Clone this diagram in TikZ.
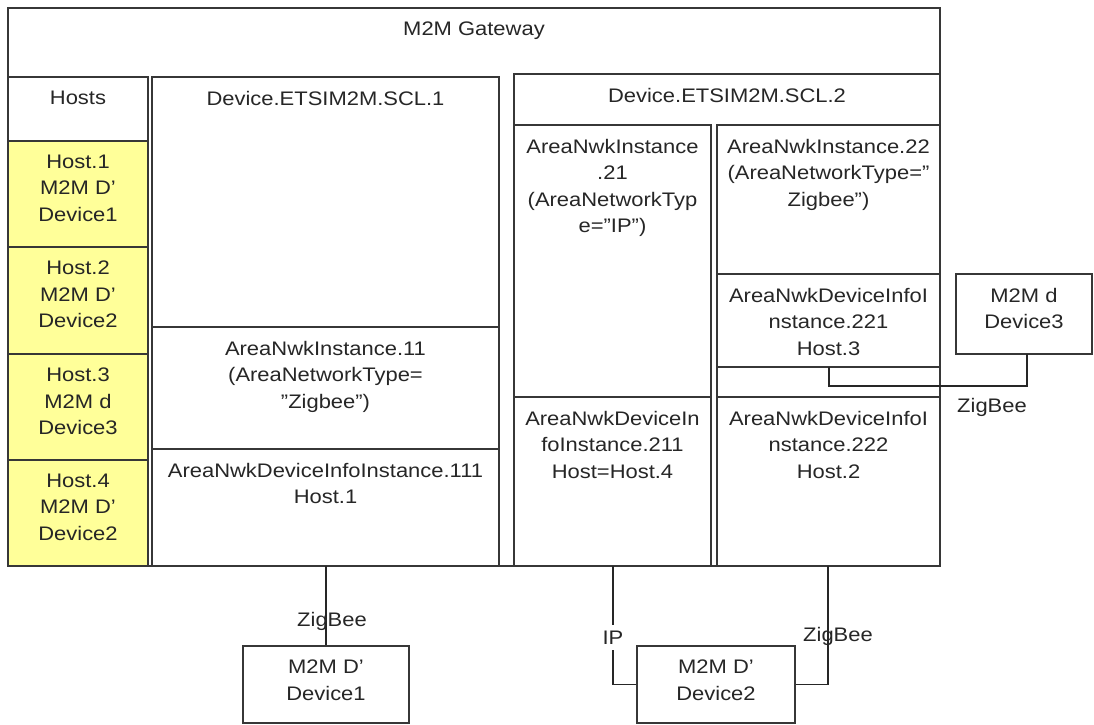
\documentclass[tikz,border=0pt]{standalone}
\usepackage{fontspec}
\setmainfont{Liberation Sans}[FakeStretch=1.12]
\usetikzlibrary{fit}
\definecolor{hostyellow}{RGB}{255,255,153}
\definecolor{ln}{RGB}{55,55,55}
\begin{document}
\begin{tikzpicture}[x=0.5pt,y=-0.5pt,
  box/.style={draw=ln, line width=0.6pt, inner sep=0pt},
  hostbox/.style={box, fill=hostyellow},
  txt/.style={anchor=north, inner sep=0pt, align=center, text=black!85,
    font=\fontsize{9.8}{13.3}\selectfont},
  lbl/.style={anchor=base, inner sep=0pt, text=black!85,
    font=\fontsize{9.8}{13.3}\selectfont},
  conn/.style={draw=black!85, line width=0.7pt}]
\useasboundingbox (0,0) rectangle (1094,724);
% gateway
\node[box, fit={(8,8) (940,566)}] (gw) {};
\node[txt] (gwt) at (474,21.5) {M2M Gateway};
% hosts
\node[box, fit={(8,77) (148,141)}] (hostsh) {};
\node[txt] (hostst) at (78,90.5) {Hosts};
\node[hostbox, fit={(8,141) (148,247)}] (h1) {};
\node[hostbox, fit={(8,247) (148,354)}] (h2) {};
\node[hostbox, fit={(8,354) (148,460)}] (h3) {};
\node[hostbox, fit={(8,460) (148,566)}] (h4) {};
\node[txt] (h1t) at (78,154.5) {Host.1\\M2M D’\\Device1};
\node[txt] (h2t) at (78,260.5) {Host.2\\M2M D’\\Device2};
\node[txt] (h3t) at (78,367.5) {Host.3\\M2M d\\Device3};
\node[txt] (h4t) at (78,473.5) {Host.4\\M2M D’\\Device2};
% SCL.1
\node[box, fit={(152,77) (499,566)}] (scl1) {};
\node[txt] (scl1t) at (325.5,90.5) {Device.ETSIM2M.SCL.1};
\node[box, fit={(152,327) (499,449)}] (a11) {};
\node[txt] (a11t) at (325.5,340.5) {AreaNwkInstance.11\\(AreaNetworkType=\\”Zigbee”)};
\node[box, fit={(152,449) (499,566)}] (d111) {};
\node[txt] (d111t) at (325.5,462.5) {AreaNwkDeviceInfoInstance.111\\Host.1};
% SCL.2
\node[box, fit={(514,74) (940,566)}] (scl2) {};
\node[txt] (scl2t) at (727,88) {Device.ETSIM2M.SCL.2};
\node[box, fit={(514,125) (711,566)}] (a21) {};
\node[txt] (a21t) at (612.5,138.5) {AreaNwkInstance\\.21\\(AreaNetworkTyp\\e=”IP”)};
\node[box, fit={(514,397) (711,566)}] (d211) {};
\node[txt] (d211t) at (612.5,410.5) {AreaNwkDeviceIn\\foInstance.211\\Host=Host.4};
\node[box, fit={(717,125) (940,566)}] (a22) {};
\node[txt] (a22t) at (828.5,138.5) {AreaNwkInstance.22\\(AreaNetworkType=”\\Zigbee”)};
\node[box, fit={(717,274) (940,367)}] (d221) {};
\node[txt] (d221t) at (828.5,287.5) {AreaNwkDeviceInfoI\\nstance.221\\Host.3};
\node[box, fit={(717,397) (940,566)}] (d222) {};
\node[txt] (d222t) at (828.5,410.5) {AreaNwkDeviceInfoI\\nstance.222\\Host.2};
% devices
\node[box, fit={(243,646) (409,723)}] (dev1) {};
\node[txt] (dev1t) at (326,659.5) {M2M D’\\Device1};
\node[box, fit={(637,646) (795,723)}] (dev2) {};
\node[txt] (dev2t) at (716,659.5) {M2M D’\\Device2};
\node[box, fit={(956,274) (1092,354)}] (dev3) {};
\node[txt] (dev3t) at (1024,287.5) {M2M d\\Device3};
% connectors
\coordinate (c1) at (326,566);
\draw[conn] (c1) -- (dev1.north);
\node[lbl] (z1) at (332,626) {ZigBee};
\coordinate (c2) at (613,566);
\draw[conn] (c2) |- (dev2.west);
\node[lbl, fill=white, inner ysep=3pt, inner xsep=1pt] (ip) at (613,644) {IP};
\coordinate (c3) at (828,566);
\draw[conn] (c3) |- (dev2.east);
\node[lbl] (z2) at (838,641) {ZigBee};
\coordinate (c4) at (829,367);
\coordinate (c5) at (1027,354);
\draw[conn] (c4) -- (829,386) -| (c5);
\node[lbl] (z3) at (992,412) {ZigBee};
\end{tikzpicture}
\end{document}
